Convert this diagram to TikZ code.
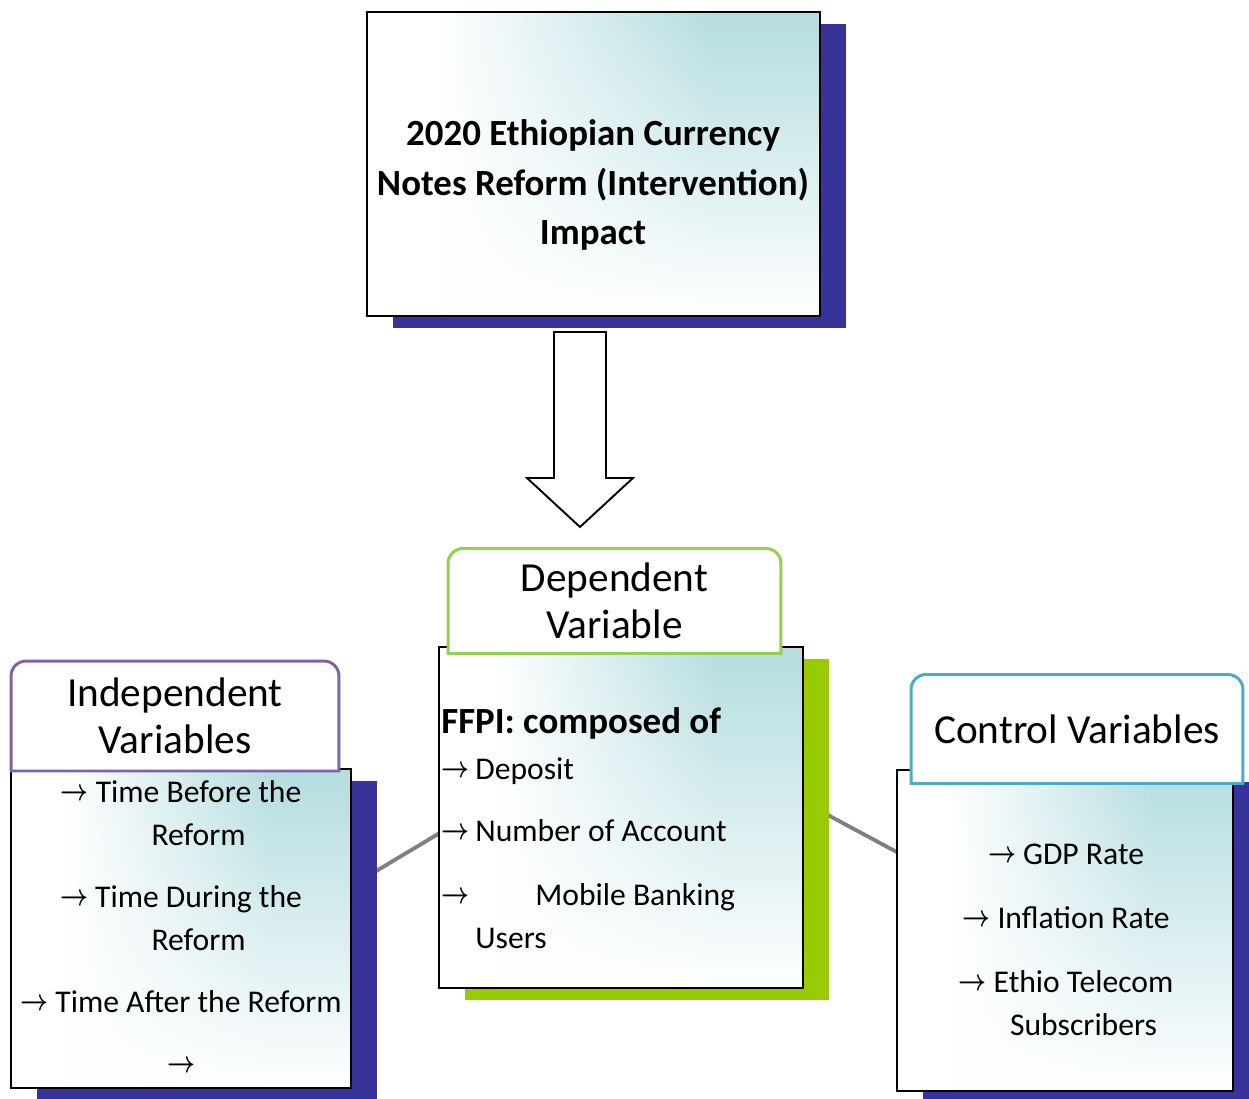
\documentclass[tikz,border=0pt]{standalone}
\usepackage{fontspec}
\usepackage{amsmath}
\usepackage{graphicx}
\setmainfont{Carlito}
\usetikzlibrary{positioning,calc,shadows,fadings}
\definecolor{navyS}{HTML}{373399}
\definecolor{limeS}{HTML}{99CC00}
\definecolor{greenT}{HTML}{92D050}
\definecolor{purpleT}{HTML}{8064A2}
\definecolor{tealT}{HTML}{4BACC6}
\definecolor{tealG}{HTML}{B5DDE0}
\definecolor{linkG}{HTML}{808080}
\pgfdeclarelayer{background}
\pgfdeclarelayer{front}
\pgfsetlayers{background,main,front}
\pgfdeclarehorizontalshading{bodyshade}{100bp}{color(0bp)=(white); color(33bp)=(white); color(63bp)=(tealG); color(100bp)=(tealG)}
\tikzfading[name=bodyfade, top color=transparent!100, middle color=transparent!75, bottom color=transparent!0]
\newcommand\arr{\raisebox{1.3pt}{\scalebox{0.8}[1]{\fontsize{16.5}{16.5}\selectfont$\boldsymbol{\rightarrow}$}}}
\newcommand\ra{\makebox[0.68cm][l]{\arr}}
\newcommand\tabframe[2]{%
  \filldraw[fill=white, draw=#2, line width=1.7pt]
    (#1.south west) -- ([yshift=-0.3cm]#1.north west) arc[start angle=180, end angle=90, radius=0.3cm]
    -- ([xshift=-0.3cm]#1.north east) arc[start angle=90, end angle=0, radius=0.3cm]
    -- (#1.south east) -- cycle;}
\tikzset{
  boxframe/.style={rectangle, draw=black, line width=1.1pt, outer sep=0pt, inner sep=0pt,
    drop shadow={shadow xshift=0.52cm, shadow yshift=-0.24cm, fill=#1, opacity=1},
    path picture={
      \shade[shading=bodyshade] (path picture bounding box.south west) rectangle (path picture bounding box.north east);
      \fill[white, path fading=bodyfade] (path picture bounding box.south west) rectangle (path picture bounding box.north east);}},
  titletext/.style={align=center, font=\fontsize{21}{28}\selectfont\bfseries, inner sep=0pt},
  tabtext/.style={align=center, font=\fontsize{23.5}{26.5}\selectfont, outer sep=0pt, inner sep=0pt},
  listtext/.style={align=#1, font=\fontsize{18}{24.4}\selectfont, inner sep=0pt},
  link/.style={draw=linkG, line width=2.2pt},
  blockarr/.style={draw=black, line width=1.1pt, fill=white, line join=miter},
}
\begin{document}
\begin{tikzpicture}[x=0.02cm, y=-0.02cm]
  \useasboundingbox (0,0) rectangle (1249,1099);
  % reform box
  \node[boxframe=navyS, minimum width=9.06cm, minimum height=6.08cm] (reform) at (593.5,164) {};
  \node[titletext] (reformtxt) at (593,185)
    {2020 Ethiopian Currency\\Notes Reform (Intervention)\\Impact};
  % big arrow down
  \coordinate (arrtail) at (580,332);
  \draw[blockarr] (arrtail) -- ++(26,0) -- ++(0,146) -- ++(27,0) -- ++(-53,49)
    -- ++(-53,-49) -- ++(27,0) -- ++(0,-146) -- cycle;
  % variable boxes
  \node[boxframe=navyS, minimum width=6.8cm, minimum height=6.38cm] (indep) at (181,928.5) {};
  \node[boxframe=limeS, minimum width=7.28cm, minimum height=6.82cm] (dep) at (621,817.5) {};
  \node[boxframe=navyS, minimum width=6.72cm, minimum height=6.42cm] (ctrl) at (1065,930.5) {};
  \begin{pgfonlayer}{background}
    \draw[link] (indep.14.7) -- (dep.185.8);
    \draw[link] (dep.5.5) -- (ctrl.155.4);
  \end{pgfonlayer}
  % tabs
  \begin{pgfonlayer}{front}
    \node[tabtext, minimum width=6.56cm, minimum height=2.2cm] (indephdr) at (175,716) {Independent\\Variables};
    \node[tabtext, minimum width=6.66cm, minimum height=2.1cm] (dephdr) at (614.5,601) {Dependent\\Variable};
    \node[tabtext, minimum width=6.64cm, minimum height=2.18cm] (ctrlhdr) at (1077,729) {Control Variables};
  \end{pgfonlayer}
  \tabframe{indephdr}{purpleT}
  \tabframe{dephdr}{greenT}
  \tabframe{ctrlhdr}{tealT}
  % lists
  \node[listtext=center] (indeptxt) at (181,928)
    {\arr{} Time Before the\\\phantom{\arr\ }Reform\\[11pt]
     \arr{} Time During the\\\phantom{\arr\ }Reform\\[11pt]
     \arr{} Time After the Reform\\[11pt]
     \arr};
  \node[listtext=left, anchor=north west] (deptxt) at (441,707)
    {{\fontsize{21}{24.4}\selectfont\bfseries FFPI: composed of}\\[2pt]
     \ra Deposit\\[11pt]
     \ra Number of Account\\[12pt]
     \ra\hspace{1.2cm}Mobile Banking\\
     \hspace*{0.68cm}Users};
  \node[listtext=center] (ctrltxt) at (1066,940)
    {\arr{} GDP Rate\\[12pt]
     \arr{} Inflation Rate\\[12pt]
     \arr{} Ethio Telecom\\\phantom{\arr\ }Subscribers};
\end{tikzpicture}
\end{document}
